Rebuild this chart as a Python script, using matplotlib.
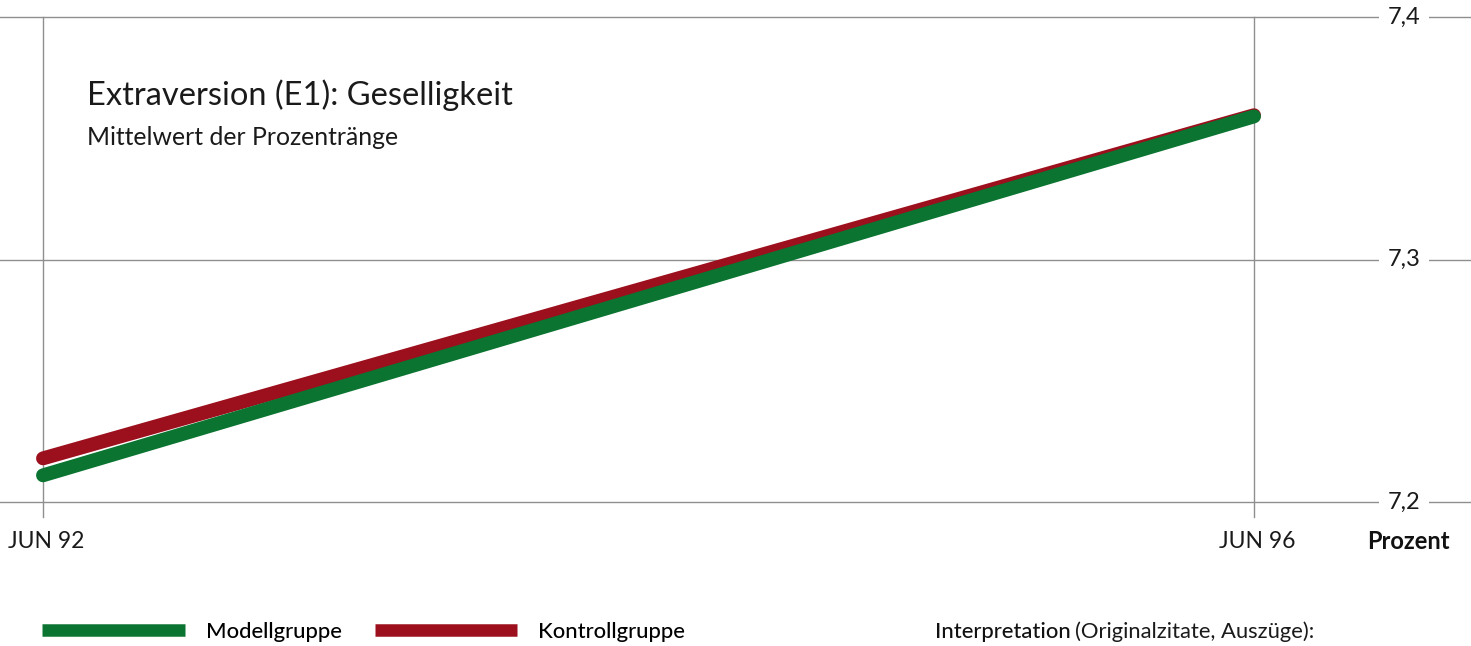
import matplotlib.pyplot as plt
from matplotlib.lines import Line2D

# data
zeitpunkte = ["JUN 92", "JUN 96"]
modellgruppe = [7.211, 7.359]
kontrollgruppe = [7.218, 7.3595]
y_ticks = [7.2, 7.3, 7.4]
y_labels = ["7,2", "7,3", "7,4"]

gruen = "#0a7430"
rot = "#9c0f1c"
grau = "#8f8f8f"
schrift = "#1a1a1a"

plt.rcParams['font.family'] = ['Lato', 'DejaVu Sans']

fig = plt.figure(figsize=(14.71, 6.46), dpi=100)
ax = fig.add_axes([0, 0, 1, 1])
ax.axis("off")

# pixel-matched limits: JUN 92 -> x=0, JUN 96 -> x=1
x_px0, x_px1 = 43, 1254
sx = 1.0 / (x_px1 - x_px0)
ax.set_xlim(-x_px0 * sx, (1471 - x_px0) * sx)
y_per_px = 0.1 / 242.5
ax.set_ylim(7.2 - (646 - 502) * y_per_px, 7.4 + 17 * y_per_px)

x = list(range(len(zeitpunkte)))

# horizontal grid with labels on the right
for t, lab in zip(y_ticks, y_labels):
    ax.axhline(t, color=grau, lw=1, zorder=1)
    ax.text((1404 - x_px0) * sx, t, lab, ha="center", va="center",
            fontsize=17, color=schrift,
            bbox=dict(facecolor="white", edgecolor="none", pad=6), zorder=3)

# vertical lines at the dates
for xi, lab in zip(x, zeitpunkte):
    ax.plot([xi, xi], [7.4, 7.2 - 15 * y_per_px], color=grau, lw=1, zorder=1)
    ax.text(xi + 3 * sx, 7.2 - 39 * y_per_px, lab, ha="center", va="center",
            fontsize=16.5, color=schrift)

ax.text((1408 - x_px0) * sx, 7.2 - 39 * y_per_px, "Prozent", ha="center", va="center",
        fontsize=17, fontweight="bold", color="#111111")

ax.plot(x, kontrollgruppe, color=rot, lw=10, solid_capstyle="round", zorder=4)
ax.plot(x, modellgruppe, color=gruen, lw=10, solid_capstyle="round", zorder=5)

ax.text((87 - x_px0) * sx, 7.4 - (95 - 17) * y_per_px, "Extraversion (E1): Geselligkeit",
        ha="left", va="center", fontsize=23.5, color=schrift)
ax.text((87 - x_px0) * sx, 7.4 - (137 - 17) * y_per_px, "Mittelwert der Prozentränge",
        ha="left", va="center", fontsize=17.8, color=schrift)

handles = [Line2D([], [], color=gruen, lw=9, solid_capstyle="butt"),
           Line2D([], [], color=rot, lw=9, solid_capstyle="butt")]
leg = ax.legend(handles, ["Modellgruppe", "Kontrollgruppe"], ncol=2, frameon=False,
                loc="center left", bbox_to_anchor=(43 / 1471 - 0.0005, 1 - 632 / 646),
                fontsize=15.8, handlelength=6.5, handletextpad=0.95, columnspacing=1.5,
                borderaxespad=0, borderpad=0)
for t in leg.get_texts():
    t.set_fontweight("medium")

fig.text(935 / 1471, 1 - 632 / 646, "Interpretation", ha="left", va="center",
         fontsize=15.8, fontweight="medium", color="#111111")
fig.text(1075 / 1471, 1 - 632 / 646, "(Originalzitate, Auszüge):", ha="left", va="center",
         fontsize=15.8, color=schrift)

fig.savefig("out.png", dpi=100)
